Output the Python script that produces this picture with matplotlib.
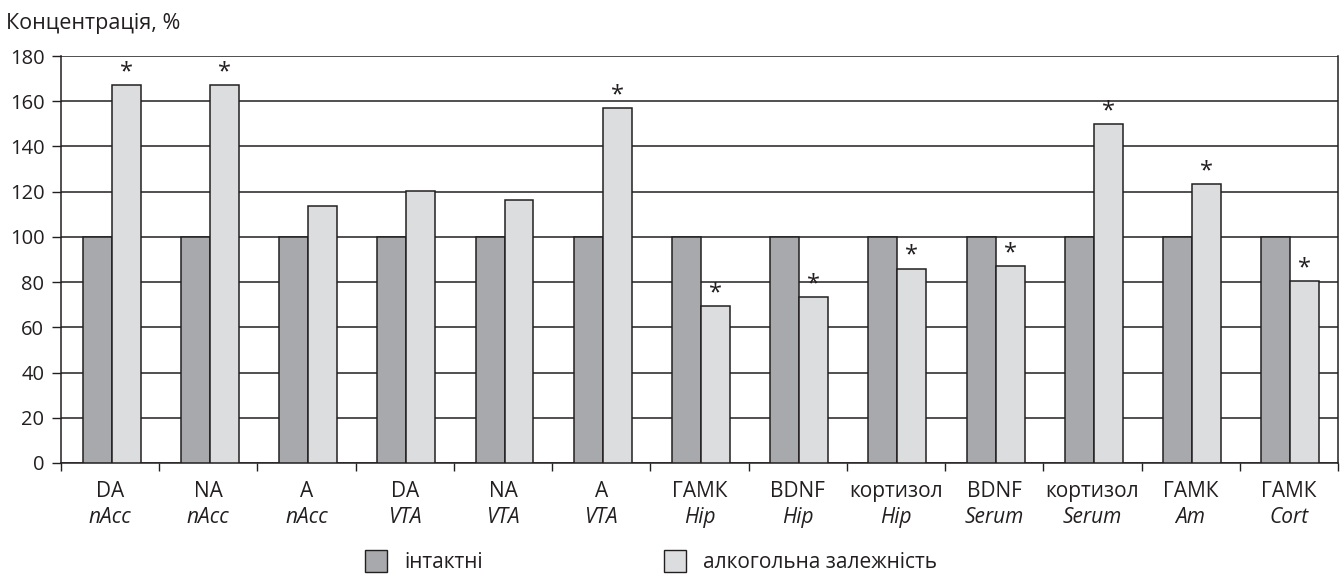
import matplotlib
matplotlib.use('Agg')
import matplotlib.pyplot as plt
import matplotlib.transforms as mtransforms
from matplotlib.patches import Rectangle
import numpy as np

plt.rcParams['font.family'] = ['Open Sans', 'DejaVu Sans']

# categories: substance (line 1) and region (line 2, italic)
substances = ['DA', 'NA', 'A', 'DA', 'NA', 'A', 'ГАМК', 'BDNF', 'кортизол',
              'BDNF', 'кортизол', 'ГАМК', 'ГАМК']
regions = ['nAcc', 'nAcc', 'nAcc', 'VTA', 'VTA', 'VTA', 'Hip', 'Hip', 'Hip',
           'Serum', 'Serum', 'Am', 'Cort']
intact = [100, 100, 100, 100, 100, 100, 100, 100, 100, 100, 100, 100, 100]
alcohol = [167, 167, 113.5, 120.5, 116.5, 157, 69.5, 73.5, 86, 87, 150, 123.5, 80.5]
significant = [True, True, False, False, False, True, True, True, True,
               True, True, True, True]
legend_labels = ['інтактні', 'алкогольна залежність']

dark_color = '#a7a9ac'
light_color = '#dcdddf'
ink = '#231f20'

W, H = 1343, 574
fig = plt.figure(figsize=(W / 100, H / 100), dpi=100)
ax = fig.add_axes([61 / W, 1 - 463 / H, (1338 - 61) / W, (463 - 56) / H])

x = np.arange(len(substances))
w = 0.295
ax.bar(x - w + 0.015, intact, width=w, align='edge', color=dark_color,
       edgecolor=ink, linewidth=1.1, zorder=3)
ax.bar(x + 0.015, alcohol, width=w, align='edge', color=light_color,
       edgecolor=ink, linewidth=1.1, zorder=3)

# significance marks
for xi, val, sig in zip(x, alcohol, significant):
    if sig:
        ax.text(xi + 0.015 + w / 2, val + 3.0, '*', ha='center', va='baseline',
                fontsize=17, color=ink, zorder=4)

ax.set_xlim(-0.5, len(substances) - 0.5)
ax.set_ylim(0, 180)
ax.set_yticks(np.arange(0, 181, 20))
ax.tick_params(axis='y', labelsize=14.5, colors=ink, length=6.5, width=1.0, pad=5.5)
ax.set_xticks(np.arange(-0.5, len(substances), 1.0))
ax.set_xticklabels([])
ax.tick_params(axis='x', length=5.5, width=1.0, colors=ink)

ax.yaxis.grid(True, color=ink, linewidth=1.1, zorder=0)
ax.set_axisbelow(True)
for side in ['left', 'right', 'bottom']:
    ax.spines[side].set_color(ink)
    ax.spines[side].set_linewidth(1.1)
ax.spines['top'].set_visible(False)

trans = mtransforms.blended_transform_factory(ax.transData, ax.transAxes)
for xi, s, r in zip(x, substances, regions):
    ax.text(xi, -0.0835, s, transform=trans, ha='center', va='baseline',
            fontsize=15, color=ink)
    ax.text(xi, -0.1474, r, transform=trans, ha='center', va='baseline',
            fontsize=15, color=ink, style='italic')

fig.text(6 / W, 1 - 29 / H, 'Концентрація, %', ha='left', va='baseline',
         fontsize=15.5, color=ink)

# legend drawn by hand to sit where the original puts it
for color, label, x0 in zip([dark_color, light_color], legend_labels, [365, 664]):
    fig.add_artist(Rectangle((x0 / W, 1 - 572 / H), 22 / W, 22 / H,
                             transform=fig.transFigure, facecolor=color,
                             edgecolor=ink, linewidth=1.0))
    fig.text((x0 + 39) / W, 1 - 568 / H, label, ha='left', va='baseline',
             fontsize=15, color=ink)

fig.savefig('out.png', dpi=100)
